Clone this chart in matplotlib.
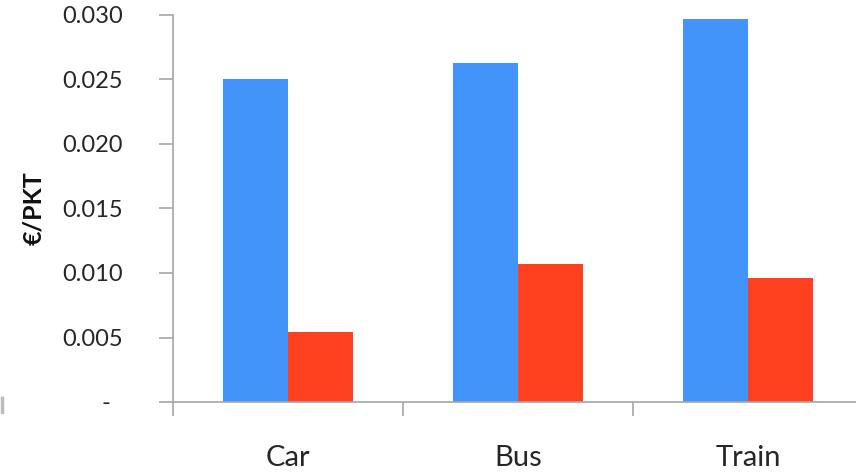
import matplotlib
matplotlib.use("Agg")
import matplotlib.pyplot as plt
import numpy as np
from matplotlib.lines import Line2D
from matplotlib.ticker import FixedLocator, FuncFormatter

categories = ["Car", "Bus", "Train"]
series_a = [0.0250, 0.0263, 0.0297]
series_b = [0.0054, 0.0107, 0.0096]
y_ticks = [0.0, 0.005, 0.010, 0.015, 0.020, 0.025, 0.030]

BLUE = "#4394FA"
RED = "#FF411F"
AXIS_GRAY = "#A6A6A6"
TEXT = "#262626"
FONT = ["Lato", "DejaVu Sans"]

fig = plt.figure(figsize=(8.56, 4.72), dpi=100)
ax = fig.add_axes([173 / 856, 1 - 402 / 472, 690 / 856, 387 / 472])

x = np.arange(len(categories))
w = 0.283
ax.bar(x - w / 2, series_a, width=w, color=BLUE, linewidth=0)
ax.bar(x + w / 2, series_b, width=w, color=RED, linewidth=0)

ax.set_xlim(-0.5, 2.5)
ax.set_ylim(0, 0.030)

for s in ("top", "right"):
    ax.spines[s].set_visible(False)
for s in ("left", "bottom"):
    ax.spines[s].set_color(AXIS_GRAY)
    ax.spines[s].set_linewidth(1.2)

ax.yaxis.set_major_locator(FixedLocator(y_ticks))
ax.yaxis.set_major_formatter(
    FuncFormatter(lambda v, p: "-  " if abs(v) < 1e-9 else f"{v:.3f}")
)
ax.tick_params(axis="y", direction="out", length=10, width=1.2, color=AXIS_GRAY,
               pad=26, labelsize=17, labelcolor=TEXT)

# category boundary ticks on the x axis, labels centred under each group
ax.set_xticks([-0.5, 0.5, 1.5, 2.5])
ax.set_xticklabels([])
ax.set_xticks(x, minor=True)
ax.set_xticklabels(categories, minor=True)
ax.tick_params(axis="x", which="major", direction="out", length=10, width=1.2,
               color=AXIS_GRAY)
ax.tick_params(axis="x", which="minor", length=0, pad=31, labelsize=21,
               labelcolor=TEXT)

for lbl in ax.get_yticklabels() + ax.get_xticklabels(minor=True):
    lbl.set_family(FONT)

ax.set_ylabel("€/PKT", fontsize=18, fontweight="bold", color="#111111",
              family=FONT, labelpad=12)

# small gray stroke at the left edge
fig.add_artist(Line2D([1.5 / 856, 1.5 / 856], [1 - 412 / 472, 1 - 398 / 472],
                      transform=fig.transFigure, color="#BBBBBB", linewidth=2.5))

fig.savefig("out.png", dpi=100)
